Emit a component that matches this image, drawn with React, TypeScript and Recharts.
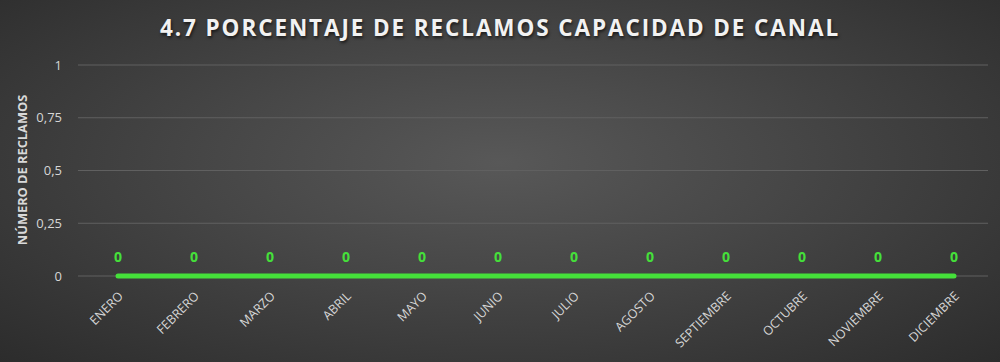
import React from 'react'
import { LineChart, Line, XAxis, YAxis, CartesianGrid, LabelList } from 'recharts'

const months = [
  'ENERO', 'FEBRERO', 'MARZO', 'ABRIL', 'MAYO', 'JUNIO',
  'JULIO', 'AGOSTO', 'SEPTIEMBRE', 'OCTUBRE', 'NOVIEMBRE', 'DICIEMBRE',
]
const reclamos = [0, 0, 0, 0, 0, 0, 0, 0, 0, 0, 0, 0]
const yTicks = [0, 0.25, 0.5, 0.75, 1]

const data = months.map((m, i) => ({ mes: m, valor: reclamos[i] }))

const FONT = '"Open Sans", "Noto Sans", sans-serif'
const GREEN = '#45e03a'

// rotated month labels, anchored at the end like the original
const MonthTick = ({ x, y, payload }: any) => (
  <g transform={`translate(${x + 3},${y + 10})`}>
    <text
      textAnchor="end"
      transform="rotate(-45)"
      fill="#d6d6d6"
      fontSize={12.5}
      fontFamily={FONT}
      dy={4}
    >
      {payload.value}
    </text>
  </g>
)

export default function App() {
  return (
    <div
      style={{
        position: 'absolute',
        left: 0,
        top: 0,
        width: 1000,
        height: 362,
        background: 'radial-gradient(ellipse at 50% 45%, #585858 0%, #474747 40%, #2c2c2c 100%)',
        fontFamily: FONT,
        overflow: 'hidden',
      }}
    >
      <div
        style={{
          position: 'absolute',
          top: 12,
          width: '100%',
          textAlign: 'center',
          color: '#f2f2f2',
          fontWeight: 700,
          fontSize: 22.5,
          letterSpacing: 1.9,
          textShadow: '1px 2px 3px rgba(0,0,0,0.6)',
        }}
      >
        4.7 PORCENTAJE DE RECLAMOS CAPACIDAD DE CANAL
      </div>
      <div
        style={{
          position: 'absolute',
          left: 22,
          top: 170,
          transform: 'translate(-50%, -50%) rotate(-90deg)',
          whiteSpace: 'nowrap',
          color: '#d9d9d9',
          fontWeight: 700,
          fontSize: 12.8,
        }}
      >
        NÚMERO DE RECLAMOS
      </div>
      <LineChart
        width={1000}
        height={362}
        data={data}
        margin={{ top: 65, right: 12, left: 0, bottom: 0 }}
      >
        <CartesianGrid vertical={false} stroke="#606060" strokeWidth={1} />
        <XAxis
          dataKey="mes"
          axisLine={false}
          tickLine={false}
          interval={0}
          height={86}
          padding={{ left: 40, right: 34 }}
          tick={<MonthTick />}
        />
        <YAxis
          width={78}
          domain={[0, 1]}
          ticks={yTicks}
          axisLine={false}
          tickLine={false}
          tickFormatter={(v: number) => String(v).replace('.', ',')}
          tick={{ fill: '#d6d6d6', fontSize: 13, fontFamily: FONT }}
          tickMargin={10}
        />
        <Line
          type="linear"
          dataKey="valor"
          stroke={GREEN}
          strokeWidth={5}
          strokeLinecap="round"
          dot={false}
          isAnimationActive={false}
        >
          <LabelList
            dataKey="valor"
            position="top"
            offset={14}
            fill={GREEN}
            fontSize={14}
            fontWeight={700}
            fontFamily={FONT}
          />
        </Line>
      </LineChart>
    </div>
  )
}
